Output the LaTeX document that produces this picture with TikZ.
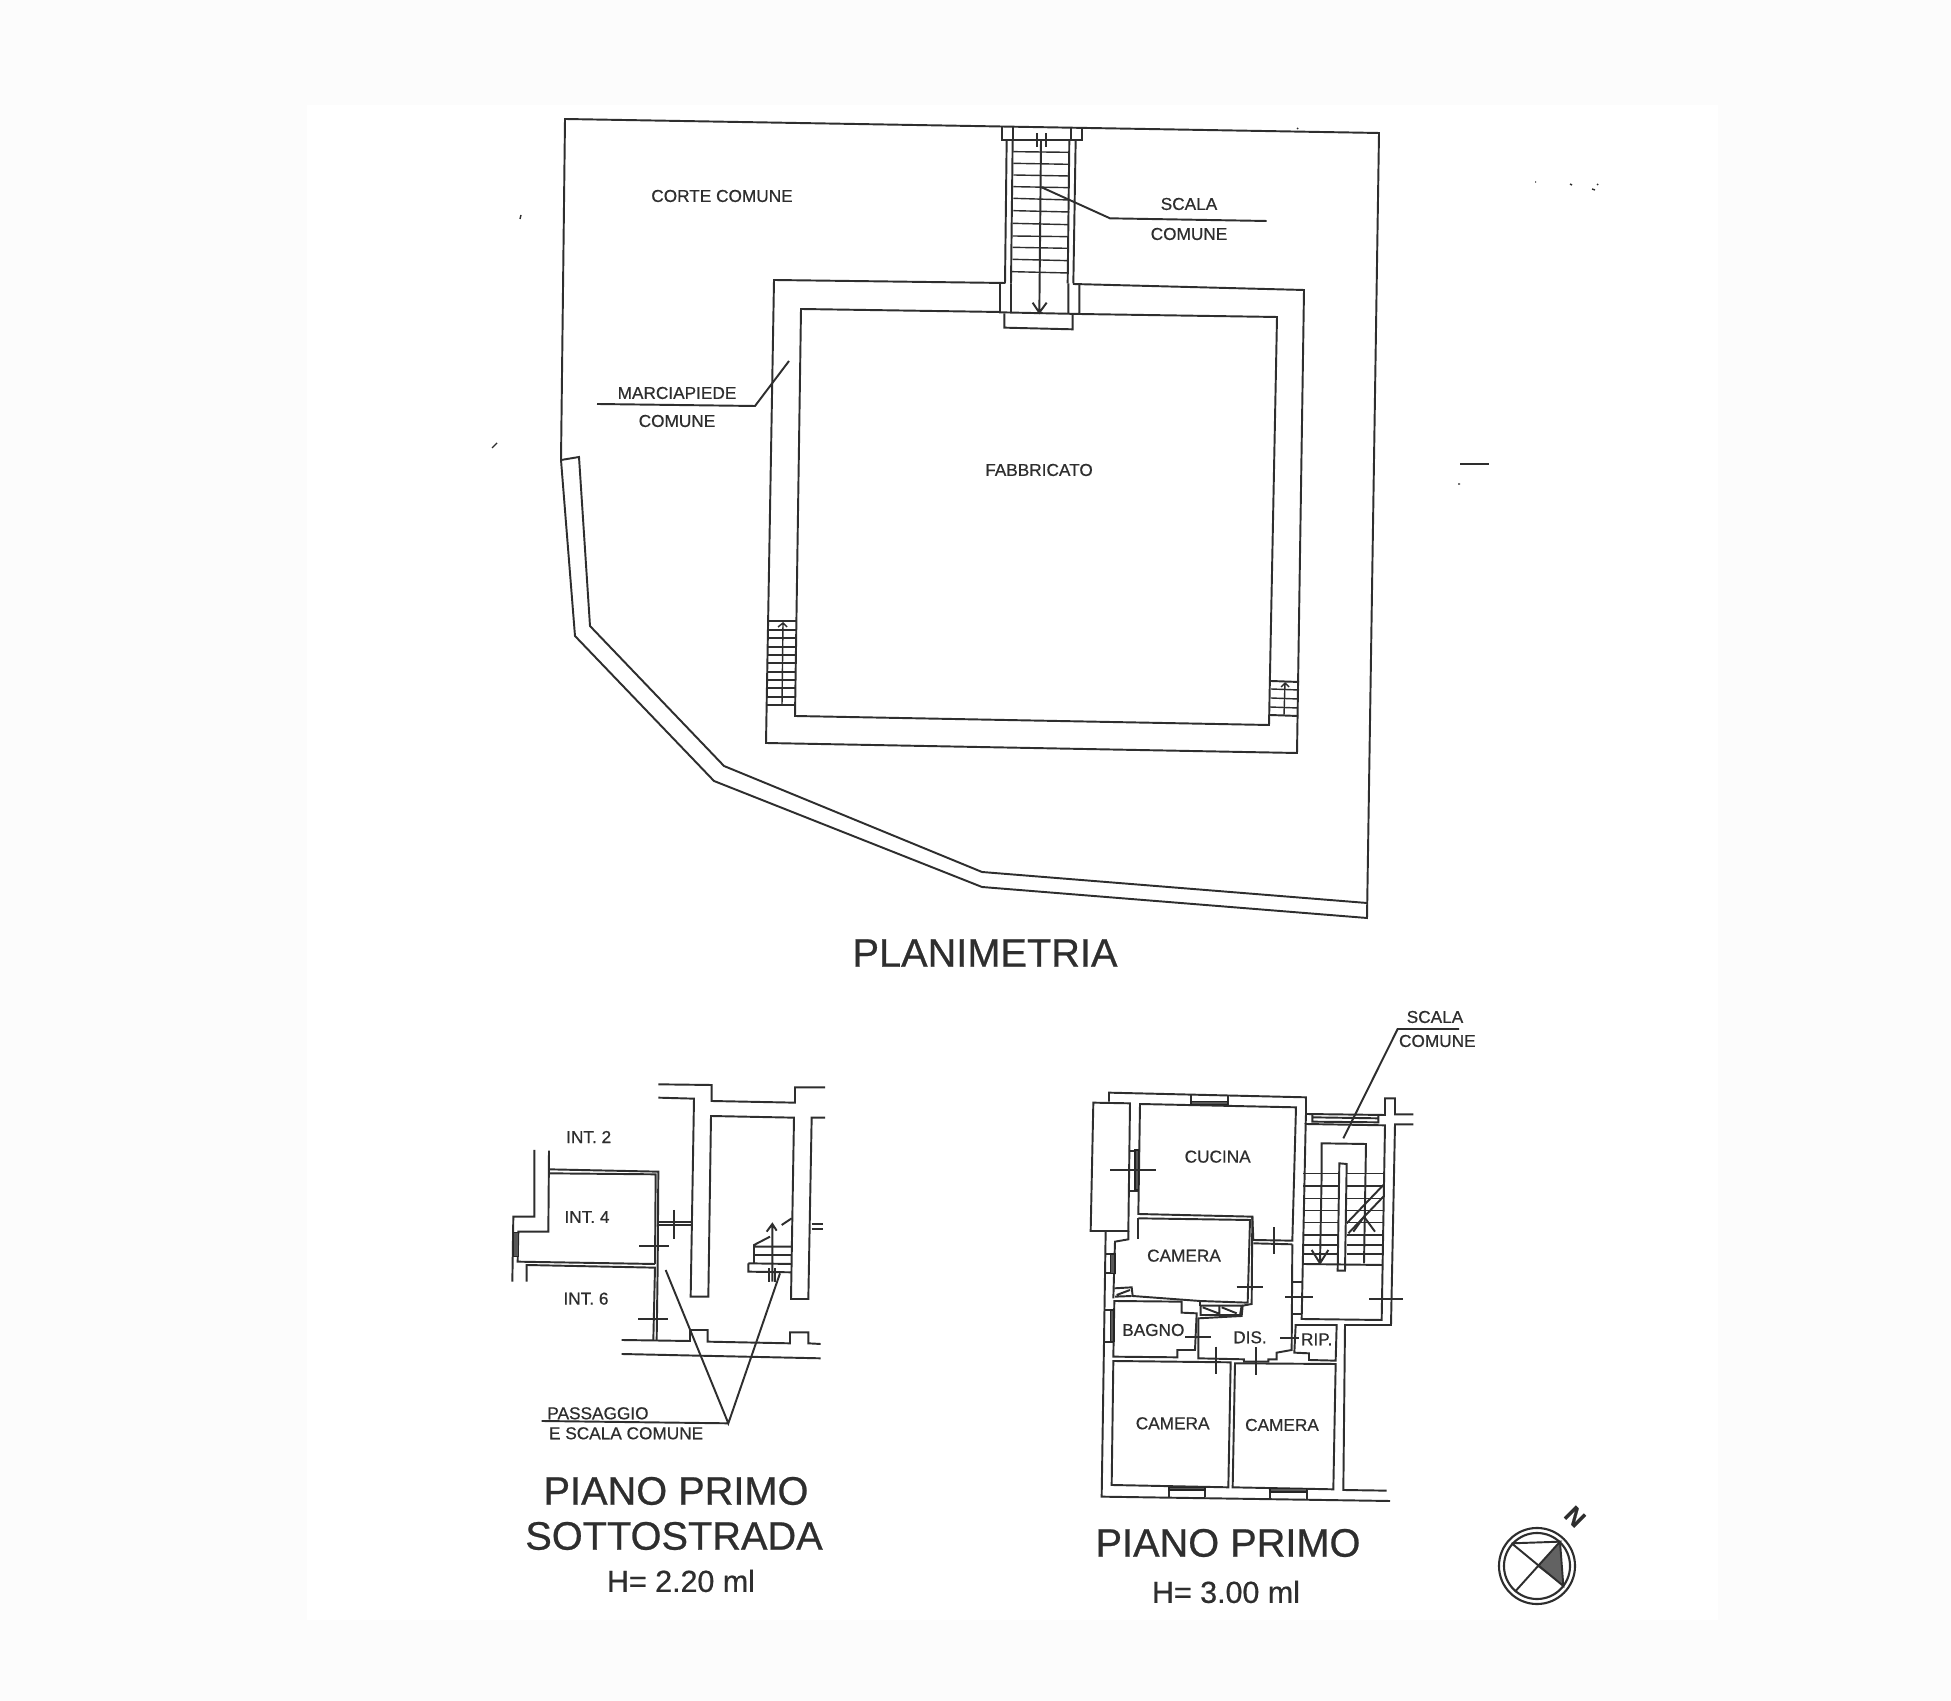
\documentclass[tikz,border=0pt]{standalone}
\usepackage{fontspec}
\setmainfont[RawFeature={embolden=0.6}]{Liberation Sans}
\usepackage{tikz}
\definecolor{inkline}{HTML}{2E2E2E}
\definecolor{paperedge}{HTML}{FCFCFC}
\tikzset{
    plan/.style={draw=inkline, line width=0.55pt, line join=miter},
    thinplan/.style={draw=inkline, line width=0.4pt},
    heavyplan/.style={draw=inkline!80!black, fill=inkline!80, line width=0.4pt},
    smalltext/.style={inner sep=0, text=inkline, font=\fontsize{4.9}{6}\selectfont},
    midtext/.style={inner sep=0, text=inkline, font=\fontsize{8.65}{10}\selectfont},
    bigtext/.style={inner sep=0, text=inkline, font=\fontsize{11.3}{13}\selectfont},
    zoomcrop/.style={shift={#1}, scale=0.33333}
}
\begin{document}
\begin{tikzpicture}[x=0.01cm, y=-0.01cm]
    \useasboundingbox (0, 0) rectangle (1951, 1701);
    \fill[paperedge] (0, 0) rectangle (1951, 1701);
    \fill[white] (307, 105) rectangle (1718, 1620);

    \draw[plan] (565, 119) -- (1379, 133) -- (1367, 918) -- (982, 887) -- (714, 781) -- (575, 636) -- (561, 460) -- cycle;
    \draw[plan] (1367, 903) -- (982, 872) -- (724, 766) -- (590, 626) -- (579, 457) -- (561, 460);

    \draw[plan] (1005, 283) -- (774, 280) -- (766, 743) -- (1297, 753) -- (1304, 290) -- (1073, 284);
    \draw[plan] (1000, 312) -- (801, 309) -- (795, 716) -- (1269, 725) -- (1277, 317) -- (1079, 314);

    \draw[plan] (768, 621) -- (797, 621) (767, 705) -- (796, 705);
    \draw[thinplan] (768, 630) -- (797, 630) (768, 638) -- (797, 638) (768, 647) -- (797, 647) (768, 655) -- (797, 655)
        (768, 663) -- (797, 663) (768, 672) -- (796, 672) (768, 680) -- (796, 680) (767, 688) -- (796, 688) (767, 697) -- (796, 697);
    \draw[thinplan] (782, 705) -- (783, 623) (778, 627) -- (783, 623) -- (787, 627);
    \draw[plan] (1271, 681) -- (1299, 682) (1270, 715) -- (1298, 716);
    \draw[thinplan] (1271, 689) -- (1299, 690) (1271, 698) -- (1298, 699) (1270, 707) -- (1298, 708);
    \draw[thinplan] (1284, 715) -- (1285, 683) (1281, 687) -- (1285, 683) -- (1289, 687);

    \begin{scope}[zoomcrop={(960, 110)}]
        \draw[plan] (127, 52) -- (127, 90) -- (365, 90) -- (365, 58) (160, 52) -- (160, 90) (332, 55) -- (332, 90);
        \draw[plan] (140, 90) -- (135, 520) (158, 90) -- (153, 520) (347, 90) -- (340, 520) (328, 90) -- (323, 520);
        \draw[thinplan] (160, 125) -- (328, 127) (160, 160) -- (328, 163) (160, 195) -- (328, 198) (160, 230) -- (328, 233)
            (160, 265) -- (328, 270) (160, 302) -- (328, 306) (158, 340) -- (326, 344) (158, 378) -- (326, 380)
            (158, 412) -- (325, 415) (158, 448) -- (325, 452) (156, 485) -- (325, 489);
        \draw[plan] (120, 520) -- (120, 607) -- (358, 612) -- (358, 525) (153, 520) -- (153, 608) (325, 520) -- (325, 610);
        \draw[plan] (133, 610) -- (133, 653) -- (338, 658) -- (338, 612);
        \draw[plan] (243, 90) -- (238, 608) (218, 578) -- (238, 608) -- (260, 578);
        \draw[plan] (230, 70) -- (230, 110) (258, 70) -- (258, 110);
        \draw[plan] (245, 232) -- (450, 325) -- (920, 333);
    \end{scope}

    \draw[plan] (597, 404) -- (755, 406) -- (789, 361);
    \draw[plan] (1460, 464) -- (1489, 464);
    \draw[thinplan] (1458, 484) -- (1460, 484) (521, 215) -- (520, 219) (497, 443) -- (492, 448)
        (1535, 182) -- (1536, 182) (1570, 184) -- (1572, 185) (1592, 189) -- (1595, 190) (1597, 184) -- (1598, 185) (1297, 128) -- (1298, 129);

    \node[smalltext] (labelcorte) at (722, 196) {CORTE COMUNE};
    \node[smalltext] (labelscala) at (1189, 204) {SCALA};
    \node[smalltext] (labelcomune) at (1189, 234) {COMUNE};
    \node[smalltext] (labelmarcia) at (677, 393) {MARCIAPIEDE};
    \node[smalltext] (labelmarcib) at (677, 421) {COMUNE};
    \node[smalltext] (labelfab) at (1039, 470) {FABBRICATO};
    \node[bigtext] (labelplan) at (985, 953) {PLANIMETRIA};

    \begin{scope}[zoomcrop={(480, 1040)}]
        \draw[plan] (535, 133) -- (695, 135) -- (695, 183) -- (945, 188) -- (945, 142) -- (1035, 142);
        \draw[plan] (535, 173) -- (642, 176) -- (632, 770) -- (685, 770) -- (693, 228) -- (942, 233) -- (933, 777) -- (985, 777) -- (995, 233) -- (1035, 233);
        \draw[plan] (163, 330) -- (163, 530) -- (100, 530) -- (97, 725);
        \draw[plan] (207, 332) -- (205, 575) -- (115, 575) -- (113, 665) -- (525, 672);
        \draw[plan] (205, 388) -- (535, 395) -- (533, 680) -- (530, 900);
        \draw[plan] (205, 400) -- (527, 403) -- (525, 672);
        \draw[plan] (140, 725) -- (140, 675) -- (525, 683) -- (520, 900);
        \draw[heavyplan] (100, 578) rectangle (115, 650);
        \draw[plan] (535, 547) -- (632, 547) (535, 555) -- (632, 555);
        \draw[plan] (582, 510) -- (582, 598) (478, 618) -- (568, 618) (475, 838) -- (565, 838);
        \draw[plan] (425, 900) -- (630, 903) -- (630, 870) -- (683, 870) -- (683, 905) -- (930, 910) -- (930, 877) -- (985, 877) -- (985, 910) -- (1022, 912);
        \draw[plan] (425, 942) -- (1022, 955);
        \draw[plan] (805, 670) -- (805, 695) -- (935, 697) (805, 670) -- (935, 672);
        \draw[plan] (822, 670) -- (822, 615) -- (870, 590) (822, 620) -- (935, 620) (822, 645) -- (935, 645);
        \draw[plan] (905, 555) -- (935, 535) (860, 575) -- (877, 552) -- (890, 572) (877, 725) -- (877, 552);
        \draw[plan] (868, 685) -- (868, 725) (885, 685) -- (885, 725);
        \draw[plan] (995, 553) -- (1028, 553) (995, 567) -- (1028, 567);
        \draw[plan] (557, 690) -- (745, 1150) -- (900, 700) (185, 1143) -- (745, 1150);
        \node[smalltext] (labelintb) at (326, 291) {INT. 2};
        \node[smalltext] (labelintd) at (321, 531) {INT. 4};
        \node[smalltext] (labelintf) at (318, 776) {INT. 6};
        \node[smalltext, anchor=west] (labelpass) at (200, 1120) {PASSAGGIO};
        \node[smalltext, anchor=west] (labelscalb) at (205, 1180) {E SCALA COMUNE};
    \end{scope}

    \node[bigtext] (labelpiana) at (676, 1491) {PIANO PRIMO};
    \node[bigtext] (labelpianb) at (674, 1536) {SOTTOSTRADA};
    \node[midtext] (labelquota) at (681, 1581) {H= 2.20 ml};

    \begin{scope}[zoomcrop={(1060, 1000)}]
        \draw[plan] (147, 305) -- (147, 278) -- (738, 292) -- (738, 342) -- (975, 345) -- (975, 295) -- (1005, 295) -- (1005, 343) -- (1060, 343);
        \draw[plan] (1060, 373) -- (1005, 373) -- (993, 975) -- (855, 975) -- (850, 1470) -- (980, 1472);
        \draw[plan] (100, 308) -- (210, 310) -- (205, 693) -- (92, 693) -- cycle;
        \draw[plan] (240, 312) -- (708, 322) -- (697, 722) -- (580, 720) -- (577, 650) -- (235, 642) -- cycle;
        \draw[plan] (137, 693) -- (125, 1490) -- (990, 1503);
        \draw[plan] (205, 693) -- (205, 718) -- (165, 725) -- (160, 895);
        \draw[plan] (235, 655) -- (235, 718);
        \draw[plan] (235, 655) -- (570, 660) -- (563, 908) -- (420, 903) -- (218, 888) -- (215, 862) -- (163, 865);
        \draw[plan] (577, 650) -- (575, 912) -- (548, 917) -- (545, 948) -- (415, 955) -- (415, 1075) -- (552, 1078) -- (552, 1085) -- (625, 1085) -- (625, 1078) -- (650, 1078) -- (650, 1058) -- (695, 1050) -- (697, 733);
        \draw[plan] (422, 917) -- (545, 917) -- (540, 945) -- (422, 945) -- cycle;
        \draw[plan] (478, 917) -- (478, 945) (428, 922) -- (475, 940) (485, 922) -- (530, 940);
        \draw[plan] (165, 890) -- (215, 888) (170, 885) -- (210, 870);
        \draw[plan] (163, 903) -- (365, 905) -- (365, 938) -- (410, 940) -- (405, 1050) -- (352, 1050) -- (352, 1072) -- (160, 1070) -- cycle;
        \draw[plan] (420, 903) -- (420, 917);
        \draw[plan] (160, 1083) -- (512, 1087) -- (505, 1462) -- (155, 1455) -- cycle;
        \draw[plan] (525, 1090) -- (827, 1092) -- (820, 1468) -- (518, 1462) -- cycle;
        \draw[plan] (707, 975) -- (830, 975) -- (827, 1082) -- (747, 1080) -- (747, 1060) -- (703, 1058) -- cycle;
        \draw[plan] (737, 372) -- (975, 376) -- (965, 960) -- (725, 957) -- cycle;
        \draw[plan] (738, 342) -- (737, 372);
        \draw[plan] (697, 845) -- (727, 845) (697, 943) -- (725, 943);
        \draw[plan] (757, 342) -- (757, 368) (955, 345) -- (955, 370) (757, 352) -- (955, 355) (757, 365) -- (955, 367);
        \draw[plan] (393, 285) -- (393, 312) (503, 288) -- (503, 315);
        \draw[heavyplan] (393, 305) rectangle (503, 313);
        \draw[plan] (210, 452) -- (235, 452) (210, 572) -- (235, 572);
        \draw[heavyplan] (225, 450) rectangle (236, 570);
        \draw[plan] (580, 730) -- (697, 733);
        \draw[plan] (137, 762) -- (165, 762) (137, 820) -- (165, 820);
        \draw[heavyplan] (152, 762) rectangle (165, 820);
        \draw[plan] (135, 930) -- (160, 930) (135, 1025) -- (160, 1025);
        \draw[heavyplan] (152, 930) rectangle (162, 1025);
        \draw[plan] (327, 1462) -- (327, 1490) (435, 1465) -- (435, 1492);
        \draw[heavyplan] (327, 1462) rectangle (435, 1470);
        \draw[plan] (630, 1465) -- (630, 1495) (740, 1468) -- (740, 1497);
        \draw[heavyplan] (630, 1465) rectangle (740, 1476);
        \draw[plan] (785, 520) -- (785, 430) -- (918, 432) -- (912, 790);
        \draw[plan] (785, 520) -- (780, 790) (755, 750) -- (780, 790) -- (805, 750) (880, 695) -- (912, 650) -- (945, 695);
        \draw[plan] (838, 490) -- (860, 492) -- (855, 812) -- (833, 812) -- cycle;
        \draw[thinplan] (730, 520) -- (838, 520) (730, 558) -- (838, 558) (730, 596) -- (838, 596) (730, 632) -- (838, 632) (730, 668) -- (838, 668)
            (730, 705) -- (838, 705) (730, 735) -- (838, 735) (730, 762) -- (838, 762);
        \draw[thinplan] (860, 520) -- (970, 520) (860, 558) -- (970, 558) (860, 596) -- (970, 596) (860, 632) -- (970, 632) (860, 668) -- (970, 668)
            (860, 705) -- (968, 705) (860, 735) -- (968, 735) (860, 762) -- (968, 762);
        \draw[plan] (730, 792) -- (968, 795);
        \draw[plan] (860, 670) -- (970, 555) (865, 700) -- (970, 590);
        \draw[plan] (150, 510) -- (288, 510) (641, 682) -- (641, 762) (530, 862) -- (610, 862) (675, 890) -- (758, 890) (928, 897) -- (1028, 897);
        \draw[plan] (660, 1015) -- (718, 1015) (375, 1010) -- (452, 1010) (467, 1040) -- (467, 1122) (587, 1042) -- (587, 1125);
        \draw[plan] (850, 415) -- (1013, 87) -- (1197, 87);
        \node[smalltext] (labelscalc) at (1125, 51) {SCALA};
        \node[smalltext] (labelcomuc) at (1132, 123) {COMUNE};
        \node[smalltext] (labelcucina) at (473, 470) {CUCINA};
        \node[smalltext] (labelcama) at (372, 767) {CAMERA};
        \node[smalltext] (labelbagno) at (280, 990) {BAGNO};
        \node[smalltext] (labeldis) at (570, 1012) {DIS.};
        \node[smalltext] (labelrip) at (770, 1018) {RIP.};
        \node[smalltext] (labelcamb) at (338, 1270) {CAMERA};
        \node[smalltext] (labelcamc) at (666, 1275) {CAMERA};
    \end{scope}

    \node[bigtext] (labelprimo) at (1228, 1543) {PIANO PRIMO};
    \node[midtext] (labelquotb) at (1226, 1592) {H= 3.00 ml};

    \node[shape=circle, draw=inkline, line width=0.6pt, minimum size=0.76cm, inner sep=0] (compass) at (1537, 1566) {};
    \node[shape=circle, draw=inkline, line width=0.6pt, minimum size=0.66cm, inner sep=0] (compassin) at (1537, 1566) {};
    \begin{scope}[zoomcrop={(1480, 1480)}]
        \fill[inkline!75] (170, 258) -- (240, 188) -- (250, 318) -- cycle;
        \draw[plan] (95, 190) -- (240, 185) -- (105, 335) (95, 190) -- (250, 318) -- (240, 185);
        \node[bigtext, rotate=-45, font=\fontsize{7}{8}\selectfont\bfseries] (labelnord) at (285, 110) {N};
    \end{scope}
\end{tikzpicture}
\end{document}
